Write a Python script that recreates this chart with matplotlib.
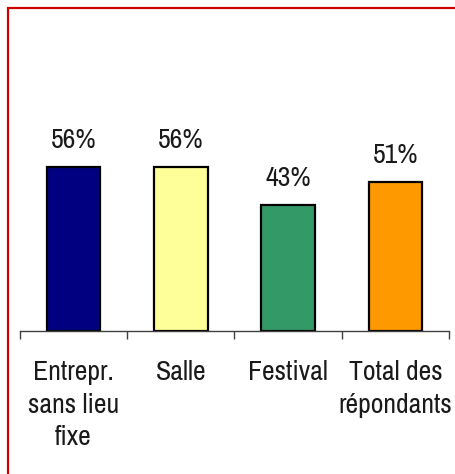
import matplotlib
matplotlib.use('Agg')
import matplotlib.pyplot as plt
from matplotlib.patches import Rectangle

categories = ['Entrepr.\nsans lieu\nfixe', 'Salle', 'Festival', 'Total des\nrépondants']
values = [56, 56, 43, 51]
colors = ['#000080', '#FFFF99', '#339966', '#FF9900']

plt.rcParams['font.family'] = ['Archivo Narrow', 'DejaVu Sans']

W, H = 456, 474
fig = plt.figure(figsize=(W / 100, H / 100), dpi=100)

# red frame (runs off the right and bottom edge)
fig.patches.append(Rectangle((8.5 / W, -0.05), 1.2, 1 - 7.5 / H + 0.05,
                             transform=fig.transFigure, fill=False,
                             edgecolor='#D00000', linewidth=1.6))

ax = fig.add_axes([20 / W, 143 / H, 429 / W, 293 / H])
x = range(len(values))
ax.bar(x, values, width=0.5, color=colors, edgecolor='black', linewidth=1.6)

for i, v in enumerate(values):
    ax.annotate(f'{v}%', (i, v), xytext=(0, 10), textcoords='offset points',
                ha='center', va='bottom', fontsize=20, color='#1a1a1a')

ax.set_xlim(-0.5, len(values) - 0.5)
ax.set_ylim(0, 100)
ax.set_yticks([])
ax.set_xticks(list(x))
ax.set_xticklabels(categories, fontsize=20, linespacing=1.38, color='#1a1a1a')
ax.tick_params(axis='x', which='major', length=0, pad=21)
ax.set_xticks([i - 0.5 for i in range(len(values) + 1)], minor=True)
ax.tick_params(axis='x', which='minor', length=6, width=1, color='#404040', direction='out')

for s in ['top', 'right', 'left']:
    ax.spines[s].set_visible(False)
ax.spines['bottom'].set_color('#404040')
ax.spines['bottom'].set_linewidth(1)

fig.savefig('out.png', dpi=100)
